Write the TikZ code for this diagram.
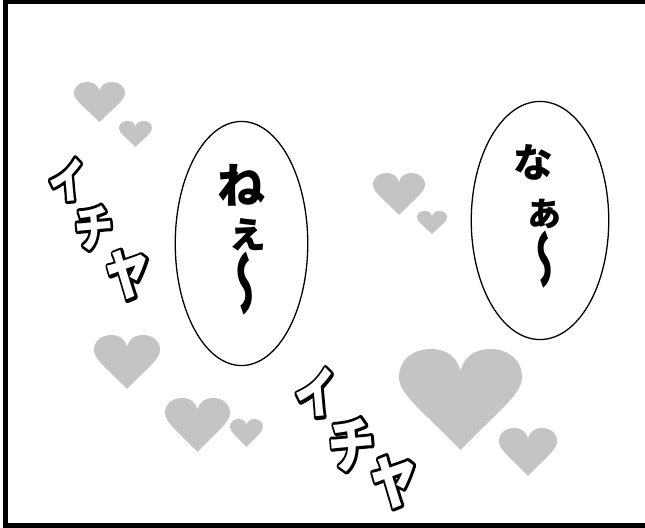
\documentclass[tikz,border=0pt]{standalone}
\usepackage{fontspec}
\usetikzlibrary{shapes.geometric}
\newfontfamily\jp{Noto Sans CJK JP}
\definecolor{heartgrey}{RGB}{196,196,196}
% outlined glyphs: a black copy filled and stroked wide, a white copy on top
\newcommand\olbox[2][6]{\hbox{\rlap{\special{pdf:literal direct 1 j 1 J #1 w 2 Tr}\color{black}#2\special{pdf:literal direct 0 Tr}}\color{white}#2}}
\newcommand\vtilde{\scalebox{1}[1.55]{\reflectbox{\rotatebox{90}{〜}}}}
\tikzset{
  x=1bp, y=-1bp,
  frameline/.style={line width=5bp, black},
  bubble/.style={draw, ellipse, line width=1.3bp, inner sep=0pt, fill=white},
  jtxt/.style={inner sep=0pt, text=black},
  icha/.style={inner sep=0pt, rotate=5, xscale=0.78, transform shape},
  heart/.pic={
    \fill[heartgrey] (0.5,1) .. controls (0.2,0.62) and (0,0.45) .. (0,0.28)
      .. controls (0,0.1) and (0.12,0) .. (0.26,0)
      .. controls (0.4,0) and (0.48,0.1) .. (0.5,0.22)
      .. controls (0.52,0.1) and (0.6,0) .. (0.74,0)
      .. controls (0.88,0) and (1,0.1) .. (1,0.28)
      .. controls (1,0.45) and (0.8,0.62) .. (0.5,1) -- cycle;
  }
}
\begin{document}
\begin{tikzpicture}
\useasboundingbox (0,0) rectangle (645,528);
\fill[white] (-6,-6) rectangle (651,534);
% hearts (left, top, width, height)
\pic[xscale=51, yscale=40] at (74,82) {heart};
\pic[xscale=33, yscale=26] at (119,121) {heart};
\pic[xscale=52, yscale=42] at (373,173) {heart};
\pic[xscale=30, yscale=23] at (417,211) {heart};
\pic[xscale=66, yscale=54] at (94,335) {heart};
\pic[xscale=65, yscale=54] at (165,398) {heart};
\pic[xscale=33, yscale=28] at (230,419) {heart};
\pic[xscale=123, yscale=101] at (399,349) {heart};
\pic[xscale=58, yscale=48] at (499,428) {heart};
% bubbles
\node[bubble, minimum width=133, minimum height=245] (b1) at (241.5,243.5) {};
\node[bubble, minimum width=138, minimum height=239] (b2) at (540,220.5) {};
% bubble texts
\node[jtxt, font=\jp\bfseries\fontsize{48}{48}\selectfont] (ne) at (241,185) {ね};
\node[jtxt, font=\jp\bfseries\fontsize{44}{44}\selectfont] (e) at (247,235) {ぇ};
\node[jtxt, font=\jp\bfseries\fontsize{44}{44}\selectfont] (t1) at (240,284) {\vtilde};
\node[jtxt, font=\jp\bfseries\fontsize{40}{40}\selectfont] (na) at (533,162) {な};
\node[jtxt, font=\jp\bfseries\fontsize{40}{40}\selectfont] (a) at (544,214) {ぁ};
\node[jtxt, font=\jp\bfseries\fontsize{40}{40}\selectfont] (t2) at (540,260) {\vtilde};
% icha 1
\node[icha, font=\jp\bfseries\fontsize{48}{48}\selectfont] (i1) at (67,180) {\olbox{イ}};
\node[icha, font=\jp\bfseries\fontsize{50}{50}\selectfont] (c1) at (94,228) {\olbox{チ}};
\node[icha, font=\jp\bfseries\fontsize{66}{66}\selectfont] (y1) at (128,275) {\olbox{ャ}};
% icha 2
\node[icha, font=\jp\bfseries\fontsize{55}{55}\selectfont] (i2) at (316,393) {\olbox{イ}};
\node[icha, font=\jp\bfseries\fontsize{60}{60}\selectfont] (c2) at (352,445) {\olbox{チ}};
\node[icha, font=\jp\bfseries\fontsize{70}{70}\selectfont] (y2) at (394,482) {\olbox{ャ}};
% frame (open on the right)
\draw[frameline] (651,2) -- (5.5,2) -- (5.5,525.5) -- (651,525.5);
\end{tikzpicture}
\end{document}
